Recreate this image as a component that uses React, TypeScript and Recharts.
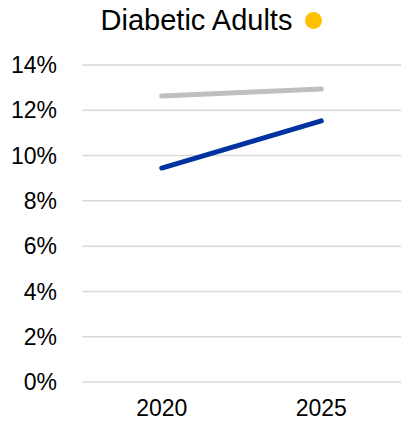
import { LineChart, Line, XAxis, YAxis, CartesianGrid } from "recharts";

const YEARS = ["2020", "2025"];
const BENCHMARK = [12.63, 12.94];
const DIABETIC = [9.45, 11.53];
const Y_TICKS = [0, 2, 4, 6, 8, 10, 12, 14];

const data = YEARS.map((year, i) => ({
  year,
  benchmark: BENCHMARK[i],
  diabetic: DIABETIC[i],
}));

const FONT = '"Liberation Sans", Arial, sans-serif';

export default function App() {
  return (
    <div
      style={{
        position: "absolute",
        top: 0,
        left: 0,
        width: 401,
        height: 421,
        fontFamily: FONT,
        background: "#fff",
      }}
    >
      <div
        style={{
          position: "absolute",
          top: 0,
          left: 0,
          width: 401,
          height: 40,
          display: "flex",
          alignItems: "center",
          justifyContent: "center",
        }}
      >
        <span style={{ fontSize: 29, color: "#000", marginLeft: 22 }}>
          Diabetic Adults
        </span>
        <span
          style={{
            display: "inline-block",
            width: 17,
            height: 17,
            borderRadius: "50%",
            background: "#ffc000",
            marginLeft: 13,
          }}
        />
      </div>
      <LineChart
        width={401}
        height={421}
        data={data}
        margin={{ top: 65, right: 0, bottom: 0, left: 0 }}
      >
        <CartesianGrid vertical={false} stroke="#d9d9d9" strokeWidth={1.5} />
        <XAxis
          dataKey="year"
          scale="band"
          axisLine={false}
          tickLine={false}
          height={39}
          tick={{ fill: "#000", fontSize: 23, fontFamily: FONT }}
          tickMargin={12}
        />
        <YAxis
          domain={[0, 14]}
          ticks={Y_TICKS}
          width={82}
          axisLine={false}
          tickLine={false}
          tickFormatter={(v: number) => `${v}%`}
          tick={{ fill: "#000", fontSize: 23, fontFamily: FONT }}
          tickMargin={19}
        />
        <Line
          dataKey="benchmark"
          stroke="#bfbfbf"
          strokeWidth={5}
          strokeLinecap="round"
          dot={false}
          isAnimationActive={false}
        />
        <Line
          dataKey="diabetic"
          stroke="#0033a0"
          strokeWidth={5}
          strokeLinecap="round"
          dot={false}
          isAnimationActive={false}
        />
      </LineChart>
    </div>
  );
}
